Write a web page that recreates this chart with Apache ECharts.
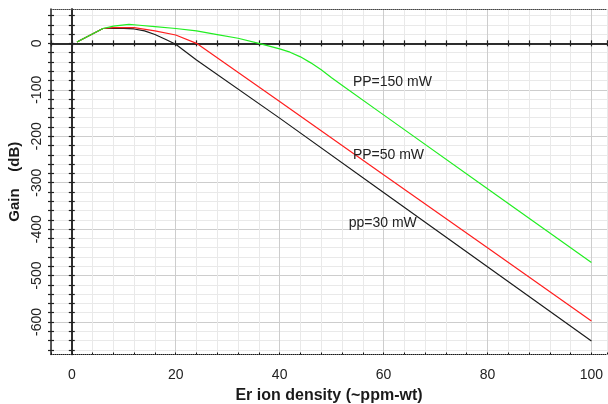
<!DOCTYPE html>
<html>
<head>
<meta charset="utf-8">
<script src="https://cdn.jsdelivr.net/npm/echarts@6/dist/echarts.min.js"></script>
<style>
  html, body { margin: 0; padding: 0; background: #fff; }
  #chart { width: 608px; height: 404px; }
</style>
</head>
<body>
<div id="chart"></div>
<script>
// Gain versus erbium ion density, for three pump powers
const pp30X  = [1, 6, 9, 12, 14, 16, 18, 20, 24, 40, 60, 80, 100];
const pp30Y  = [3, 32, 33, 31, 27, 19, 9, -2, -36, -161, -321, -481, -641];
const pp50X  = [1, 6, 8, 12, 16, 20, 24, 40, 60, 80, 100];
const pp50Y  = [3, 32, 34, 34, 27, 18, 0, -125, -283, -440, -598];
const pp150X = [1, 6, 8, 11, 13, 16, 20, 24, 28, 32, 36, 40, 42, 44, 46, 48, 50, 52, 60, 80, 100];
const pp150Y = [3, 32, 37, 41, 39, 36, 32, 27, 19, 11, 0, -12, -19, -29, -42, -57, -74, -90, -154, -313, -472];

const curveNames = ['pp=30 mW', 'PP=50 mW', 'PP=150 mW'];
// where each curve's caption sits, in data units
const captionX = [53.2, 54, 54];
const captionY = [-387, -240, -83];

const xLabelValues = [0, 20, 40, 60, 80, 100];
const yLabelValues = [-600, -500, -400, -300, -200, -100, 0];
const yTickValues = [-660, -640, -620, -600, -580, -560, -540, -520, -500, -480, -460, -440,
  -420, -400, -380, -360, -340, -320, -300, -280, -260, -240, -220, -200, -180, -160, -140,
  -120, -100, -80, -60, -40, -20, 0, 20, 40, 60];

const X_MIN = -4, X_MAX = 103, Y_MIN = -670, Y_MAX = 74;
const FONT = 'Liberation Sans, Arial, sans-serif';
const INK = '#1a1a1a';
const MINOR = '#e9e9e9', MAJOR = '#cdcdcd';
const curveColors = ['#1c1c1c', '#ff1f1f', '#22ee22'];

function pairs(xs, ys) { return xs.map((x, i) => [x, ys[i]]); }

const seriesData = [pairs(pp30X, pp30Y), pairs(pp50X, pp50Y), pairs(pp150X, pp150Y)];

const hidden = { show: false };

const xAxes = [
  { // bottom frame with labels and vertical grid
    type: 'value', position: 'bottom', min: X_MIN, max: X_MAX, interval: 4,
    axisLine: { onZero: false, lineStyle: { color: INK, width: 1, type: 'dotted' } },
    axisTick: { inside: true, length: 2, lineStyle: { color: INK } },
    axisLabel: {
      formatter: v => xLabelValues.indexOf(Math.round(v * 1000) / 1000) >= 0 ? String(Math.round(v)) : '',
      color: '#222', fontSize: 14, fontFamily: FONT, margin: 14
    },
    splitLine: { show: true, lineStyle: { color: [MINOR, MAJOR, MINOR, MINOR, MINOR], width: 1 } },
    name: 'Er ion density (~ppm-wt)', nameLocation: 'middle', nameGap: 30,
    nameTextStyle: { fontWeight: 'bold', fontSize: 16, color: INK, fontFamily: FONT }
  },
  { // top frame
    type: 'value', position: 'top', min: X_MIN, max: X_MAX,
    axisLine: { onZero: false, lineStyle: { color: '#444', width: 1, type: 'dotted' } },
    axisTick: hidden, axisLabel: hidden, splitLine: hidden
  },
  { // zero line, ticks upward
    type: 'value', position: 'bottom', min: X_MIN, max: X_MAX, interval: 4,
    axisLine: { onZero: true, onZeroAxisIndex: 0, lineStyle: { color: '#222', width: 1.5 } },
    axisTick: { inside: true, length: 3, lineStyle: { color: '#222', width: 1.2 } },
    axisLabel: hidden, splitLine: hidden
  },
  { // zero line, ticks downward
    type: 'value', position: 'bottom', min: X_MIN, max: X_MAX, interval: 4,
    axisLine: { onZero: true, onZeroAxisIndex: 0, lineStyle: { color: '#222', width: 1.5 } },
    axisTick: { inside: false, length: 3, lineStyle: { color: '#222', width: 1.2 } },
    axisLabel: hidden, splitLine: hidden
  }
];

const yAxes = [
  { // left frame with labels and horizontal grid
    type: 'value', position: 'left', min: Y_MIN, max: Y_MAX,
    axisLine: { onZero: false, lineStyle: { color: '#222', width: 1.5 } },
    axisTick: { customValues: yTickValues, length: 3, lineStyle: { color: '#222', width: 1.2 } },
    axisLabel: { customValues: yLabelValues, rotate: 90, margin: 7, color: '#222', fontSize: 14, fontFamily: FONT },
    splitLine: { show: true, lineStyle: { color: [MINOR, MINOR, MINOR, MAJOR, MINOR], width: 1 } },
    name: 'Gain    (dB)', nameLocation: 'middle', nameGap: 25,
    nameTextStyle: { fontWeight: 'bold', fontSize: 15, color: INK, fontFamily: FONT }
  },
  { // left frame, inward ticks
    type: 'value', position: 'left', min: Y_MIN, max: Y_MAX,
    axisLine: { onZero: false, show: false },
    axisTick: { show: true, customValues: yTickValues, inside: true, length: 3, lineStyle: { color: '#222', width: 1.2 } },
    axisLabel: hidden, splitLine: hidden
  },
  { // vertical zero line, ticks right
    type: 'value', position: 'left', min: Y_MIN, max: Y_MAX,
    axisLine: { onZero: true, onZeroAxisIndex: 0, lineStyle: { color: '#222', width: 1.5 } },
    axisTick: { customValues: yTickValues, inside: true, length: 3, lineStyle: { color: '#222', width: 1.2 } },
    axisLabel: hidden, splitLine: hidden
  },
  { // vertical zero line, ticks left
    type: 'value', position: 'left', min: Y_MIN, max: Y_MAX,
    axisLine: { onZero: true, onZeroAxisIndex: 0, lineStyle: { color: '#222', width: 1.5 } },
    axisTick: { customValues: yTickValues, inside: false, length: 3, lineStyle: { color: '#222', width: 1.2 } },
    axisLabel: hidden, splitLine: hidden
  }
];

const series = seriesData.map((data, i) => ({
  name: curveNames[i],
  type: 'line',
  xAxisIndex: 0,
  yAxisIndex: 0,
  data: data,
  showSymbol: false,
  symbol: 'none',
  lineStyle: { color: curveColors[i], width: 1.2 },
  itemStyle: { color: curveColors[i] },
  z: 3 + i,
  markPoint: {
    symbol: 'circle', symbolSize: 1,
    itemStyle: { color: 'rgba(0,0,0,0)' },
    label: {
      show: true, position: 'right', distance: 0,
      formatter: curveNames[i], color: '#222', fontSize: 14, fontFamily: FONT
    },
    data: [{ coord: [captionX[i], captionY[i]] }]
  }
}));

const chart = echarts.init(document.getElementById('chart'), null, { renderer: 'canvas' });
chart.setOption({
  animation: false,
  backgroundColor: '#fff',
  grid: { left: 51, top: 9, width: 556, height: 345.5, outerBoundsMode: 'none', containLabel: false },
  xAxis: xAxes,
  yAxis: yAxes,
  series: series
});
</script>
</body>
</html>
